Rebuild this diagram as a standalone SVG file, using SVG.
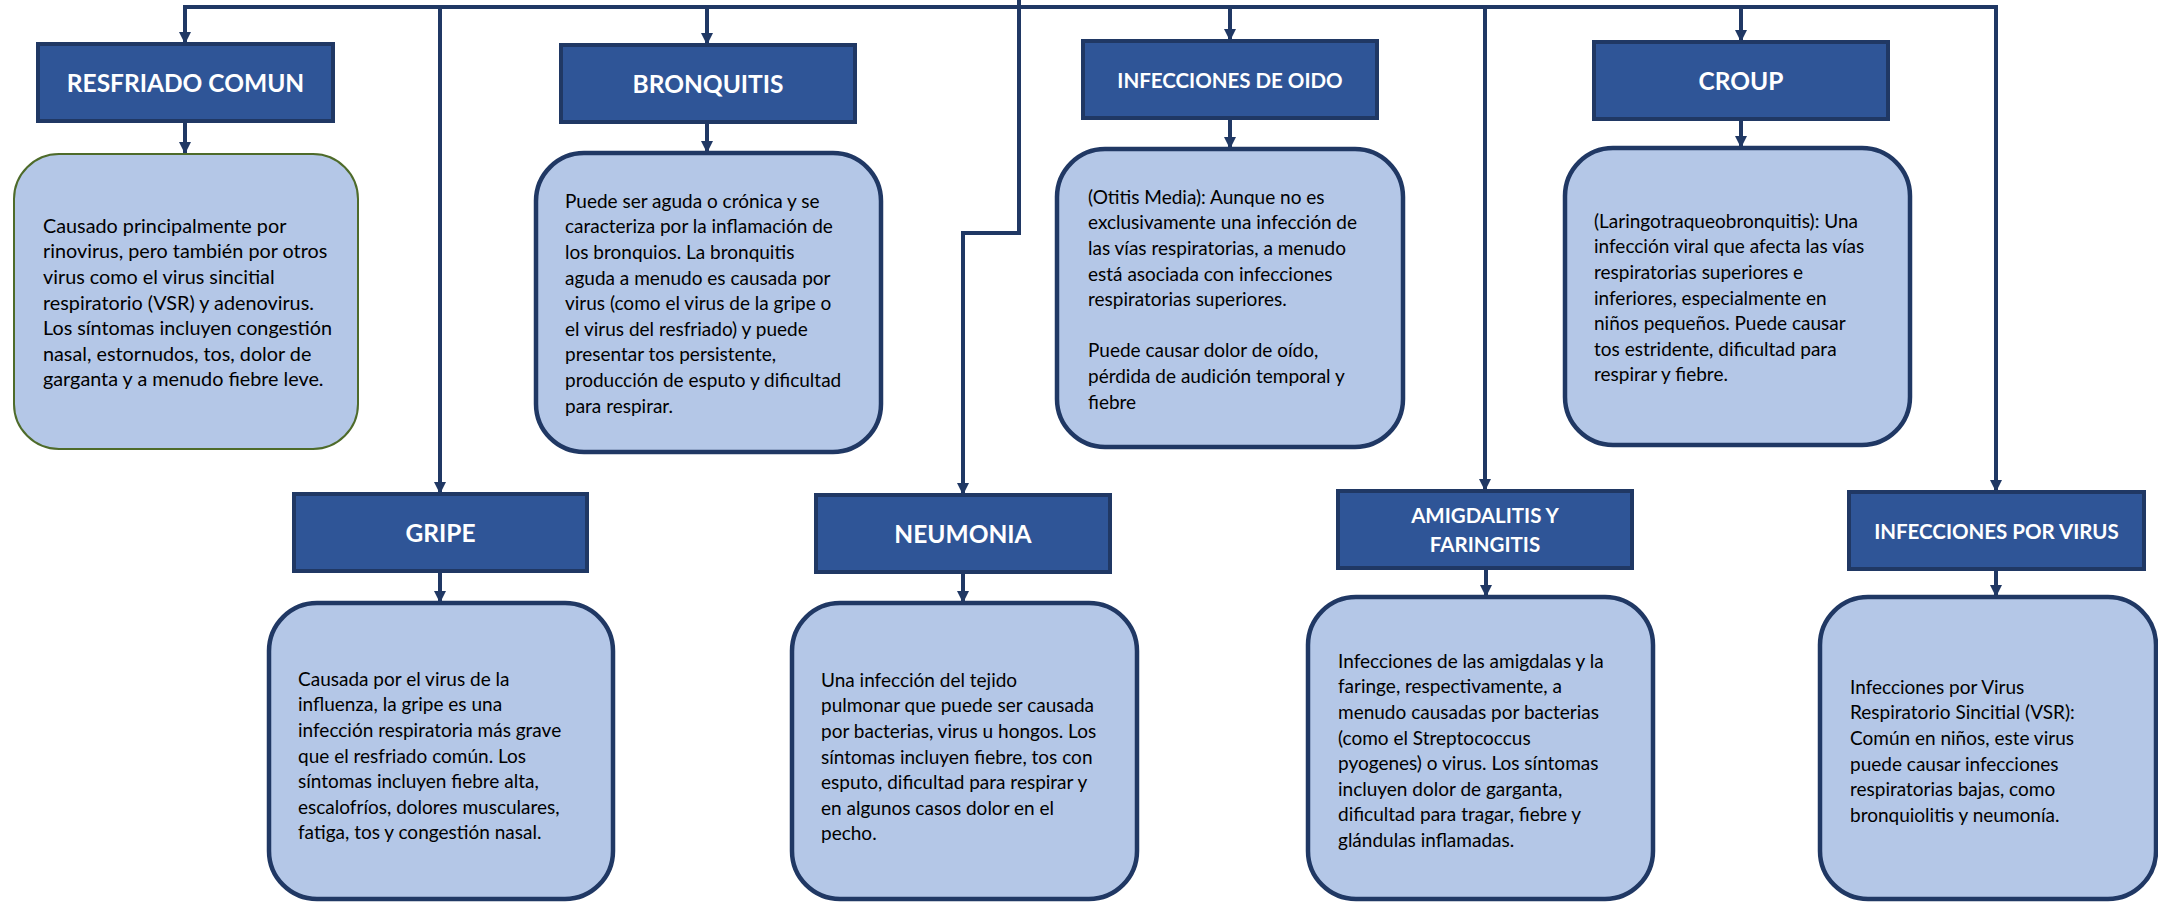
<svg xmlns="http://www.w3.org/2000/svg" width="2158" height="903" viewBox="0 0 2158 903">
<style>
.hd{fill:#2f5597;stroke:#203864;stroke-width:4}
.ds{fill:#b4c7e7;stroke:#203864;stroke-width:4.5}
.dsg{fill:#b4c7e7;stroke:#4e6b2a;stroke-width:2}
.ht{font-family:Lato,"Liberation Sans",sans-serif;font-weight:bold;fill:#ffffff;text-anchor:middle;font-size:24.5px}
.hs{font-size:20.5px}
.tx{font-family:Lato,"Liberation Sans",sans-serif;font-size:19px;fill:#000000}
.tl{font-size:19.8px}
.cn{fill:none;stroke:#203864;stroke-width:4}
</style>
<defs>
<marker id="ar" markerUnits="userSpaceOnUse" markerWidth="12" markerHeight="12" refX="11" refY="6" orient="auto">
<path d="M0,0 L12,6 L0,12 z" fill="#203864"/>
</marker>
</defs>
<g id="connectors">
<path class="cn" d="M183,7 H1998"/>
<path class="cn" d="M1019,0 V233 H963 V494" marker-end="url(#ar)"/>
<path class="cn" d="M185,7 V43" marker-end="url(#ar)"/>
<path class="cn" d="M440,7 V493" marker-end="url(#ar)"/>
<path class="cn" d="M707,7 V44" marker-end="url(#ar)"/>
<path class="cn" d="M1230,7 V40" marker-end="url(#ar)"/>
<path class="cn" d="M1485,7 V490" marker-end="url(#ar)"/>
<path class="cn" d="M1741,7 V41" marker-end="url(#ar)"/>
<path class="cn" d="M1996,7 V491" marker-end="url(#ar)"/>
<path class="cn" d="M185,121 V153" marker-end="url(#ar)"/>
<path class="cn" d="M707,122 V152" marker-end="url(#ar)"/>
<path class="cn" d="M1230,118 V148" marker-end="url(#ar)"/>
<path class="cn" d="M1741,119 V147" marker-end="url(#ar)"/>
<path class="cn" d="M440,571 V602" marker-end="url(#ar)"/>
<path class="cn" d="M963,572 V602" marker-end="url(#ar)"/>
<path class="cn" d="M1486,568 V596" marker-end="url(#ar)"/>
<path class="cn" d="M1996,569 V596" marker-end="url(#ar)"/>
</g>
<g id="resfriado">
<rect class="hd" x="38" y="44" width="295" height="77"/>
<text class="ht" x="185.5" y="92">RESFRIADO COMUN</text>
<rect class="dsg" x="14" y="154" width="344" height="295" rx="45" ry="45"/>
<text class="tx tl"><tspan x="43" y="232.7">Causado principalmente por</tspan><tspan x="43" y="258.3">rinovirus, pero también por otros</tspan><tspan x="43" y="283.9">virus como el virus sincitial</tspan><tspan x="43" y="309.5">respiratorio (VSR) y adenovirus.</tspan><tspan x="43" y="335.1">Los síntomas incluyen congestión</tspan><tspan x="43" y="360.7">nasal, estornudos, tos, dolor de</tspan><tspan x="43" y="386.3">garganta y a menudo fiebre leve.</tspan></text>
</g>
<g id="bronquitis">
<rect class="hd" x="561" y="45" width="294" height="77"/>
<text class="ht" x="708" y="93">BRONQUITIS</text>
<rect class="ds" x="536" y="153" width="345" height="299" rx="48" ry="48"/>
<text class="tx"><tspan x="565" y="207.7">Puede ser aguda o crónica y se</tspan><tspan x="565" y="233.3">caracteriza por la inflamación de</tspan><tspan x="565" y="258.9">los bronquios. La bronquitis</tspan><tspan x="565" y="284.5">aguda a menudo es causada por</tspan><tspan x="565" y="310.1">virus (como el virus de la gripe o</tspan><tspan x="565" y="335.7">el virus del resfriado) y puede</tspan><tspan x="565" y="361.3">presentar tos persistente,</tspan><tspan x="565" y="386.9">producción de esputo y dificultad</tspan><tspan x="565" y="412.5">para respirar.</tspan></text>
</g>
<g id="oido">
<rect class="hd" x="1083" y="41" width="294" height="77"/>
<text class="ht hs" x="1230" y="88">INFECCIONES DE OIDO</text>
<rect class="ds" x="1057" y="149" width="346" height="298" rx="48" ry="48"/>
<text class="tx"><tspan x="1088" y="203.7">(Otitis Media): Aunque no es</tspan><tspan x="1088" y="229.3">exclusivamente una infección de</tspan><tspan x="1088" y="254.9">las vías respiratorias, a menudo</tspan><tspan x="1088" y="280.5">está asociada con infecciones</tspan><tspan x="1088" y="306.1">respiratorias superiores.</tspan><tspan x="1088" y="357.3">Puede causar dolor de oído,</tspan><tspan x="1088" y="382.9">pérdida de audición temporal y</tspan><tspan x="1088" y="408.5">fiebre</tspan></text>
</g>
<g id="croup">
<rect class="hd" x="1594" y="42" width="294" height="77"/>
<text class="ht" x="1741" y="90">CROUP</text>
<rect class="ds" x="1565" y="148" width="345" height="297" rx="48" ry="48"/>
<text class="tx"><tspan x="1594" y="227.7">(Laringotraqueobronquitis): Una</tspan><tspan x="1594" y="253.3">infección viral que afecta las vías</tspan><tspan x="1594" y="278.9">respiratorias superiores e</tspan><tspan x="1594" y="304.5">inferiores, especialmente en</tspan><tspan x="1594" y="330.1">niños pequeños. Puede causar</tspan><tspan x="1594" y="355.7">tos estridente, dificultad para</tspan><tspan x="1594" y="381.3">respirar y fiebre.</tspan></text>
</g>
<g id="gripe">
<rect class="hd" x="294" y="494" width="293" height="77"/>
<text class="ht" x="440.5" y="542">GRIPE</text>
<rect class="ds" x="269" y="603" width="344" height="296" rx="48" ry="48"/>
<text class="tx"><tspan x="298" y="685.7">Causada por el virus de la</tspan><tspan x="298" y="711.3">influenza, la gripe es una</tspan><tspan x="298" y="736.9">infección respiratoria más grave</tspan><tspan x="298" y="762.5">que el resfriado común. Los</tspan><tspan x="298" y="788.1">síntomas incluyen fiebre alta,</tspan><tspan x="298" y="813.7">escalofríos, dolores musculares,</tspan><tspan x="298" y="839.3">fatiga, tos y congestión nasal.</tspan></text>
</g>
<g id="neumonia">
<rect class="hd" x="816" y="495" width="294" height="77"/>
<text class="ht" x="963" y="543">NEUMONIA</text>
<rect class="ds" x="792" y="603" width="345" height="296" rx="48" ry="48"/>
<text class="tx"><tspan x="821" y="686.7">Una infección del tejido</tspan><tspan x="821" y="712.3">pulmonar que puede ser causada</tspan><tspan x="821" y="737.9">por bacterias, virus u hongos. Los</tspan><tspan x="821" y="763.5">síntomas incluyen fiebre, tos con</tspan><tspan x="821" y="789.1">esputo, dificultad para respirar y</tspan><tspan x="821" y="814.7">en algunos casos dolor en el</tspan><tspan x="821" y="840.3">pecho.</tspan></text>
</g>
<g id="amigdalitis">
<rect class="hd" x="1338" y="491" width="294" height="77"/>
<text class="ht hs"><tspan x="1485" y="523">AMIGDALITIS Y</tspan><tspan x="1485" y="552">FARINGITIS</tspan></text>
<rect class="ds" x="1308" y="597" width="345" height="302" rx="48" ry="48"/>
<text class="tx"><tspan x="1338" y="667.7">Infecciones de las amigdalas y la</tspan><tspan x="1338" y="693.3">faringe, respectivamente, a</tspan><tspan x="1338" y="718.9">menudo causadas por bacterias</tspan><tspan x="1338" y="744.5">(como el Streptococcus</tspan><tspan x="1338" y="770.1">pyogenes) o virus. Los síntomas</tspan><tspan x="1338" y="795.7">incluyen dolor de garganta,</tspan><tspan x="1338" y="821.3">dificultad para tragar, fiebre y</tspan><tspan x="1338" y="846.9">glándulas inflamadas.</tspan></text>
</g>
<g id="virus">
<rect class="hd" x="1849" y="492" width="295" height="77"/>
<text class="ht hs" x="1996.5" y="539">INFECCIONES POR VIRUS</text>
<rect class="ds" x="1820" y="597" width="336" height="302" rx="48" ry="48"/>
<text class="tx"><tspan x="1850" y="693.7">Infecciones por Virus</tspan><tspan x="1850" y="719.3">Respiratorio Sincitial (VSR):</tspan><tspan x="1850" y="744.9">Común en niños, este virus</tspan><tspan x="1850" y="770.5">puede causar infecciones</tspan><tspan x="1850" y="796.1">respiratorias bajas, como</tspan><tspan x="1850" y="821.7">bronquiolitis y neumonía.</tspan></text>
</g>
</svg>
